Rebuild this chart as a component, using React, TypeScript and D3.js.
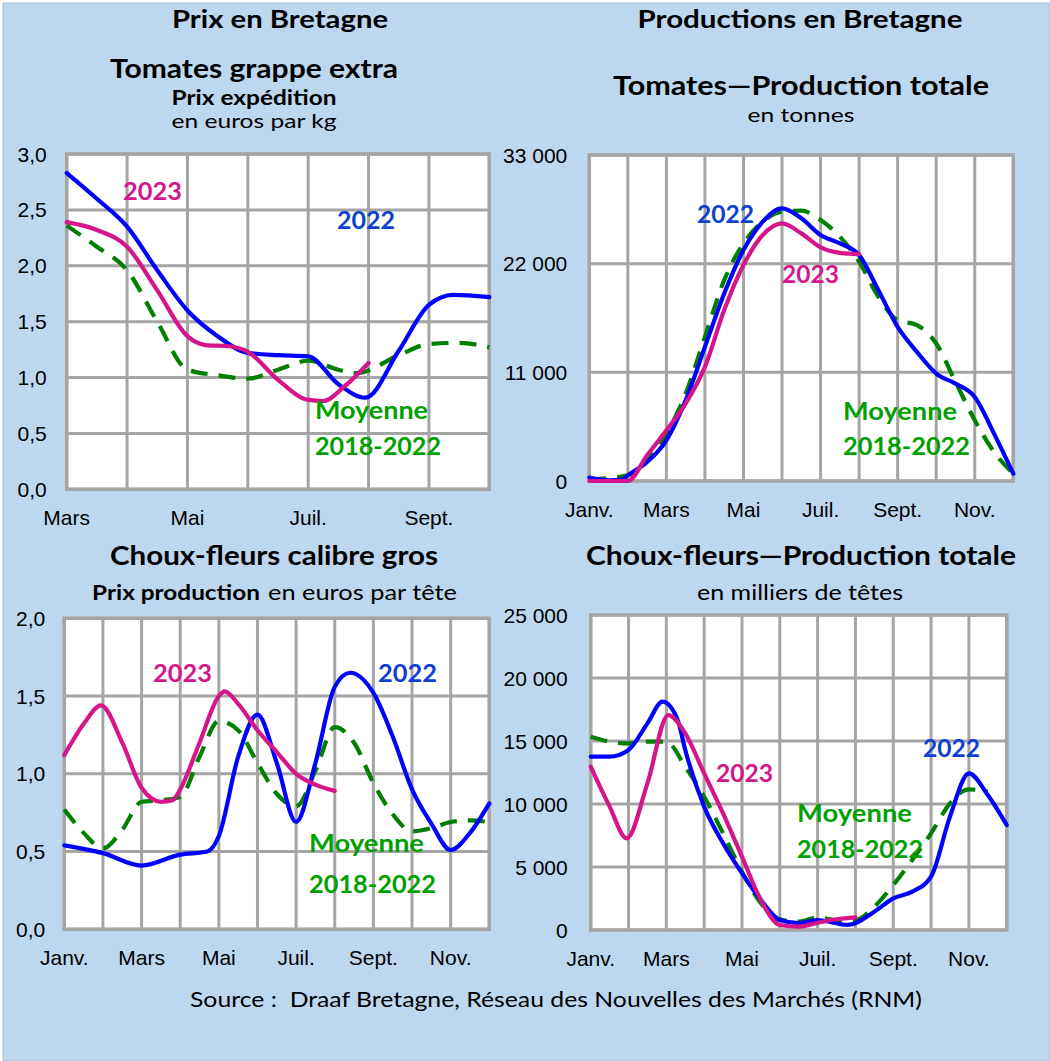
import React from 'react';
import * as d3 from 'd3';

// ---------------- DATA ----------------
// Tomates grappe extra – prix expédition (€/kg); x = months since March
const tomPrixTicks = ['Mars', '', 'Mai', '', 'Juil.', '', 'Sept.', ''];
const tomPrix2022: [number, number][] = [[0, 2.83], [0.5, 2.6], [1, 2.35], [1.5, 1.96], [2, 1.6], [2.5, 1.37], [3, 1.22], [3.5, 1.2], [4, 1.19], [4.5, 0.94], [4.95, 0.82], [5.5, 1.24], [6, 1.65], [6.4, 1.74], [7, 1.72]];
const tomPrix2023: [number, number][] = [[0, 2.39], [0.5, 2.32], [1, 2.17], [1.5, 1.78], [2, 1.37], [2.3, 1.29], [2.7, 1.28], [3, 1.23], [3.5, 0.98], [4, 0.8], [4.25, 0.79], [4.6, 0.92], [5, 1.13]];
const tomPrixMoy: [number, number][] = [[0, 2.36], [0.5, 2.17], [1, 1.96], [1.5, 1.5], [2, 1.07], [2.5, 1.02], [3, 0.99], [3.5, 1.07], [4, 1.15], [4.5, 1.07], [4.8, 1.04], [5.5, 1.2], [6, 1.3], [6.5, 1.31], [7, 1.27]];

// Tomates – production totale (tonnes); x = months since January
const yearTicks = ['Janv.', '', 'Mars', '', 'Mai', '', 'Juil.', '', 'Sept.', '', 'Nov.', ''];
const tomProd2022: [number, number][] = [[0, 340], [0.5, 70], [0.85, 135], [1, 575], [1.5, 1925], [2, 4120], [2.5, 8175], [3, 13580], [3.5, 18985], [4, 23375], [4.5, 26250], [5, 27600], [5.5, 26590], [6, 24900], [6.5, 24050], [7, 22870], [7.5, 19320], [8, 15600], [8.5, 13070], [9, 10880], [9.5, 9860], [10, 8510], [10.5, 4800], [11, 740]];
const tomProd2023: [number, number][] = [[0, 0], [0.5, 0], [1, 0], [1.5, 2600], [2, 5130], [2.5, 7840], [3, 11550], [3.5, 17300], [4, 21860], [4.5, 24900], [5, 26080], [5.5, 25065], [6, 23650], [6.5, 23100], [7, 22970]];
const tomProdMoy: [number, number][] = [[0, 150], [1, 575], [1.5, 2260], [2, 4800], [2.5, 8850], [3, 14590], [3.5, 20335], [4, 24050], [4.5, 26250], [5, 27260], [5.5, 27360], [6, 26415], [6.5, 24730], [7, 22200], [7.5, 18650], [8, 16280], [8.5, 15775], [9, 13920], [9.5, 10030], [10, 6150], [10.5, 2940], [11, 740]];

// Choux-fleurs calibre gros – prix production (€/tête)
const cfPrix2022: [number, number][] = [[0, 0.54], [1, 0.49], [2, 0.41], [3, 0.48], [3.7, 0.5], [4, 0.6], [4.5, 1.11], [5, 1.38], [5.5, 1.07], [6, 0.69], [6.5, 1.07], [7, 1.56], [7.4, 1.65], [8, 1.52], [8.5, 1.24], [9, 0.9], [9.5, 0.68], [10, 0.51], [10.5, 0.62], [11, 0.81]];
const cfPrix2023: [number, number][] = [[0, 1.12], [0.5, 1.32], [0.95, 1.44], [1.5, 1.2], [2, 0.91], [2.5, 0.82], [2.8, 0.83], [3, 0.9], [3.5, 1.2], [4, 1.5], [4.15, 1.53], [4.5, 1.45], [5, 1.28], [5.5, 1.14], [6, 1.0], [6.5, 0.93], [7, 0.89]];
const cfPrixMoy: [number, number][] = [[0, 0.77], [0.5, 0.62], [1, 0.52], [1.5, 0.64], [2, 0.82], [2.5, 0.83], [3, 0.85], [3.5, 1.11], [4, 1.34], [4.5, 1.28], [5, 1.07], [5.5, 0.87], [6, 0.79], [6.5, 1.02], [7, 1.3], [7.5, 1.2], [8, 0.94], [8.5, 0.74], [9, 0.63], [9.5, 0.65], [10, 0.69], [10.5, 0.7], [11, 0.69]];

// Choux-fleurs – production totale (milliers de têtes)
const cfProd2022: [number, number][] = [[0, 13760], [0.5, 13760], [1, 14290], [1.5, 16400], [1.9, 18120], [2.3, 16670], [2.5, 14290], [3, 9790], [3.5, 6880], [4, 4500], [4.5, 2380], [5, 790], [5.5, 550], [6, 790], [6.8, 400], [7.5, 1455], [8, 2510], [8.5, 3040], [9, 4230], [9.5, 9000], [10, 12430], [10.5, 10710], [11, 8330]];
const cfProd2023: [number, number][] = [[0, 12960], [0.5, 9790], [0.95, 7275], [1.5, 11640], [2.05, 17060], [2.5, 15610], [3, 12430], [3.5, 9260], [4, 5820], [4.5, 2380], [5, 400], [5.5, 265], [6, 580], [6.5, 850], [7, 1000]];
const cfProdMoy: [number, number][] = [[0, 15340], [0.5, 14950], [1, 14815], [1.5, 14950], [2, 14950], [2.5, 12960], [3, 10580], [3.5, 7670], [4, 4630], [4.5, 2120], [5, 850], [5.5, 660], [6, 1000], [6.5, 790], [7, 790], [7.5, 1850], [8, 3570], [8.5, 5560], [9, 7670], [9.5, 10050], [10, 11160], [10.5, 10980]];

// ---------------- STYLE ----------------
const BG = '#BDD7EE';
const GRID = '#A5A5A5';
const C22 = '#0000FF';
const C23 = '#D4168A';
const CMOY = '#007F00';
const L22 = '#1040D0';
const L23 = '#D4168A';
const LMOY = '#00A000';
const TITLE_FONT = 'Lato, "Open Sans", sans-serif';
const AXIS_FONT = '"Liberation Sans", Arial, sans-serif';

const loc = d3.formatLocale({ decimal: ',', thousands: '\u00a0', grouping: [3], currency: ['', ''] });
const fmtPrice = loc.format('.1f');
const fmtQty = loc.format(',d');

type Box = { x0: number; x1: number; y0: number; y1: number };
type Series = { data: [number, number][]; color: string; dash?: string };
type Lab = { text: string; x: number; y: number; w: number; color: string };

function Panel(props: { box: Box; ticks: string[]; yMax: number; yStep: number; fmt: (n: number) => string; series: Series[]; labels: Lab[]; yLabGap: number }) {
  const { box, ticks, yMax, yStep, fmt, series, labels, yLabGap } = props;
  const n = ticks.length;
  const x = d3.scaleLinear().domain([0, n - 1]).range([box.x0, box.x1]);
  const y = d3.scaleLinear().domain([0, yMax]).range([box.y1, box.y0]);
  const yTicks = d3.range(0, yMax + yStep / 2, yStep);
  const line = d3.line<[number, number]>().x(d => x(d[0])).y(d => y(d[1])).curve(d3.curveMonotoneX);
  return (
    <g>
      <rect x={box.x0} y={box.y0} width={box.x1 - box.x0} height={box.y1 - box.y0} fill="#fff" />
      {d3.range(n).map(i => (
        <line key={'v' + i} x1={x(i)} x2={x(i)} y1={box.y0} y2={box.y1} stroke={GRID} strokeWidth={3} />
      ))}
      {yTicks.map(v => (
        <line key={'h' + v} x1={box.x0} x2={box.x1} y1={y(v)} y2={y(v)} stroke={GRID} strokeWidth={3} />
      ))}
      <rect x={box.x0} y={box.y0} width={box.x1 - box.x0} height={box.y1 - box.y0} fill="none" stroke={GRID} strokeWidth={3.5} />
      {series.map((s, i) => (
        <path key={'s' + i} d={line(s.data) || ''} fill="none" stroke={s.color} strokeWidth={4.2} strokeDasharray={s.dash} strokeLinecap={s.dash ? 'butt' : 'round'} strokeLinejoin="round" />
      ))}
      {yTicks.map(v => (
        <text key={'yl' + v} x={box.x0 - yLabGap} y={y(v)} textAnchor="end" dominantBaseline="central" fontFamily={AXIS_FONT} fontSize={21} fill="#000">{fmt(v)}</text>
      ))}
      {ticks.map((t, i) => t ? (
        <text key={'xl' + i} x={x(i)} y={box.y1 + 36} textAnchor="middle" fontFamily={AXIS_FONT} fontSize={21} fill="#000">{t}</text>
      ) : null)}
      {labels.map((l, i) => (
        <text key={'l' + i} x={l.x} y={l.y} fontFamily={TITLE_FONT} fontWeight={700} fontSize={25} fill={l.color} textLength={l.w} lengthAdjust="spacingAndGlyphs">{l.text}</text>
      ))}
    </g>
  );
}

function T(props: { x: number; y: number; w: number; size: number; bold?: boolean; anchor?: string; children: string }) {
  const { x, y, w, size, bold, anchor, children } = props;
  return (
    <text x={x} y={y} textAnchor={anchor || 'middle'} fontFamily={TITLE_FONT} fontWeight={bold ? 700 : 400} fontSize={size} fill="#000" textLength={w} lengthAdjust="spacingAndGlyphs">{children}</text>
  );
}

export default function App() {
  const p1: Box = { x0: 66.7, x1: 489.3, y0: 154, y1: 489.3 };
  const p2: Box = { x0: 589.3, x1: 1013.3, y0: 155, y1: 481 };
  const p3: Box = { x0: 64.3, x1: 489.3, y0: 618.3, y1: 929.3 };
  const p4: Box = { x0: 590.7, x1: 1006.7, y0: 615, y1: 930 };
  return (
    <svg width={1050} height={1061} style={{ position: 'absolute', left: 0, top: 0 }} xmlns="http://www.w3.org/2000/svg">
      <rect x={0} y={0} width={1050} height={1061} fill="#fff" />
      <rect x={3} y={3} width={1047} height={1058} fill={BG} stroke="#A9BCCE" strokeWidth={1} />

      {/* headers */}
      <T x={280} y={28} w={216} size={25} bold>Prix en Bretagne</T>
      <T x={800} y={28} w={325} size={25} bold>Productions en Bretagne</T>

      <T x={254} y={78} w={288} size={26} bold>Tomates grappe extra</T>
      <T x={254} y={105} w={165} size={20} bold>Prix expédition</T>
      <T x={254} y={128} w={165} size={20}>en euros par kg</T>

      <T x={801} y={95} w={376} size={26} bold>Tomates—Production totale</T>
      <T x={801} y={122} w={107} size={20}>en tonnes</T>

      <T x={274} y={565} w={328} size={26} bold>Choux-fleurs calibre gros</T>
      <T x={92} y={600} w={168} size={21} bold anchor="start">Prix production</T>
      <T x={268} y={600} w={189} size={21} anchor="start">en euros par tête</T>

      <T x={801} y={565} w={430} size={26} bold>Choux-fleurs—Production totale</T>
      <T x={800} y={600} w={206} size={21}>en milliers de têtes</T>

      <T x={556} y={1007} w={732} size={21}>{'Source :\u00a0 Draaf Bretagne, Réseau des Nouvelles des Marchés (RNM)'}</T>

      <Panel box={p1} ticks={tomPrixTicks} yMax={3} yStep={0.5} fmt={fmtPrice} yLabGap={20}
        series={[{ data: tomPrixMoy, color: CMOY, dash: '17,11' }, { data: tomPrix2022, color: C22 }, { data: tomPrix2023, color: C23 }]}
        labels={[
          { text: '2023', x: 123, y: 200, w: 59, color: L23 },
          { text: '2022', x: 337, y: 229, w: 58, color: L22 },
          { text: 'Moyenne', x: 315, y: 419, w: 113, color: LMOY },
          { text: '2018-2022', x: 315, y: 455, w: 126, color: LMOY },
        ]} />

      <Panel box={p2} ticks={yearTicks} yMax={33000} yStep={11000} fmt={fmtQty} yLabGap={22}
        series={[{ data: tomProdMoy, color: CMOY, dash: '17,11' }, { data: tomProd2022, color: C22 }, { data: tomProd2023, color: C23 }]}
        labels={[
          { text: '2022', x: 697, y: 223, w: 57, color: L22 },
          { text: '2023', x: 782, y: 283, w: 57, color: L23 },
          { text: 'Moyenne', x: 843, y: 420, w: 114, color: LMOY },
          { text: '2018-2022', x: 843, y: 455, w: 127, color: LMOY },
        ]} />

      <Panel box={p3} ticks={yearTicks} yMax={2} yStep={0.5} fmt={fmtPrice} yLabGap={19}
        series={[{ data: cfPrixMoy, color: CMOY, dash: '17,11' }, { data: cfPrix2022, color: C22 }, { data: cfPrix2023, color: C23 }]}
        labels={[
          { text: '2023', x: 153, y: 681.5, w: 59, color: L23 },
          { text: '2022', x: 378, y: 681.5, w: 59, color: L22 },
          { text: 'Moyenne', x: 309, y: 851.5, w: 115, color: LMOY },
          { text: '2018-2022', x: 309, y: 893, w: 127, color: LMOY },
        ]} />

      <Panel box={p4} ticks={yearTicks} yMax={25000} yStep={5000} fmt={fmtQty} yLabGap={23}
        series={[{ data: cfProdMoy, color: CMOY, dash: '17,11' }, { data: cfProd2022, color: C22 }, { data: cfProd2023, color: C23 }]}
        labels={[
          { text: '2023', x: 716, y: 782, w: 57, color: L23 },
          { text: '2022', x: 923, y: 757, w: 57, color: L22 },
          { text: 'Moyenne', x: 797, y: 822, w: 115, color: LMOY },
          { text: '2018-2022', x: 797, y: 858, w: 126, color: LMOY },
        ]} />
    </svg>
  );
}
